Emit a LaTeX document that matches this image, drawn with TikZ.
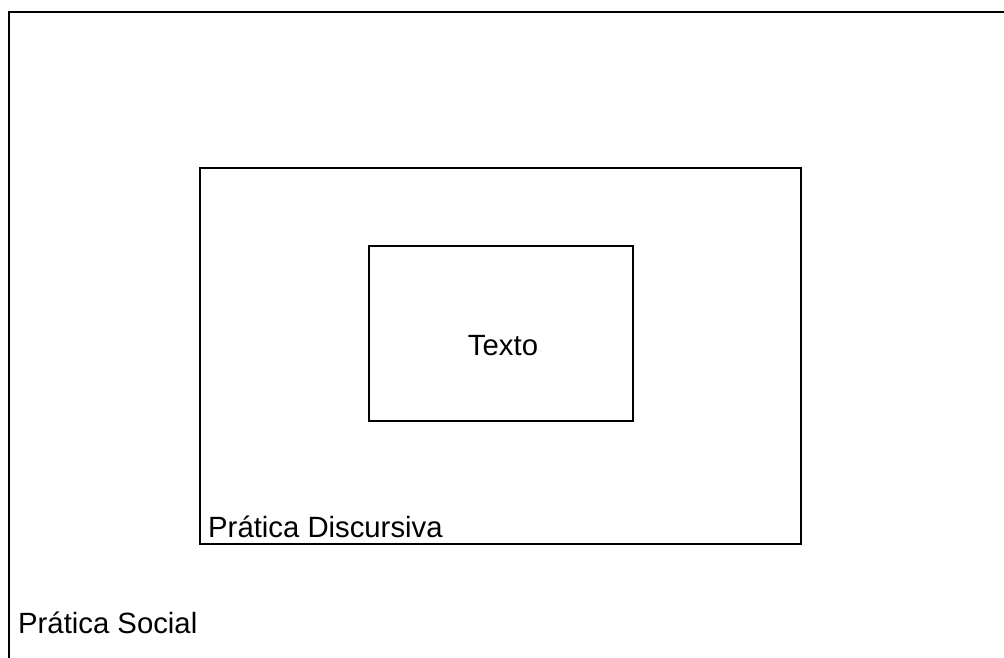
\documentclass[tikz,border=0pt]{standalone}
\usepackage{fontspec}
\setmainfont{Liberation Sans}
\begin{document}
\begin{tikzpicture}[x=1pt,y=-1pt,
  frame/.style={draw=black, line width=2pt, inner sep=0pt, outer sep=0pt},
  lbl/.style={inner sep=0pt, anchor=base west, font=\fontsize{29.3}{35}\selectfont}]
\useasboundingbox (0,0) rectangle (1004,658);
\clip (0,0) rectangle (1004,658);
\node[frame, minimum width=1011pt, minimum height=668pt] (social) at (514.5,346) {};
\node[frame, minimum width=601pt, minimum height=376pt] (discursiva) at (500.5,356) {};
\node[frame, minimum width=264pt, minimum height=175pt] (texto) at (501,333.5) {};
\node[lbl, anchor=base] (textolbl) at (503,355) {Texto};
\node[lbl] (disclbl) at (208,537) {Prática Discursiva};
\node[lbl] (soclbl) at (18,633) {Prática Social};
\end{tikzpicture}
\end{document}
